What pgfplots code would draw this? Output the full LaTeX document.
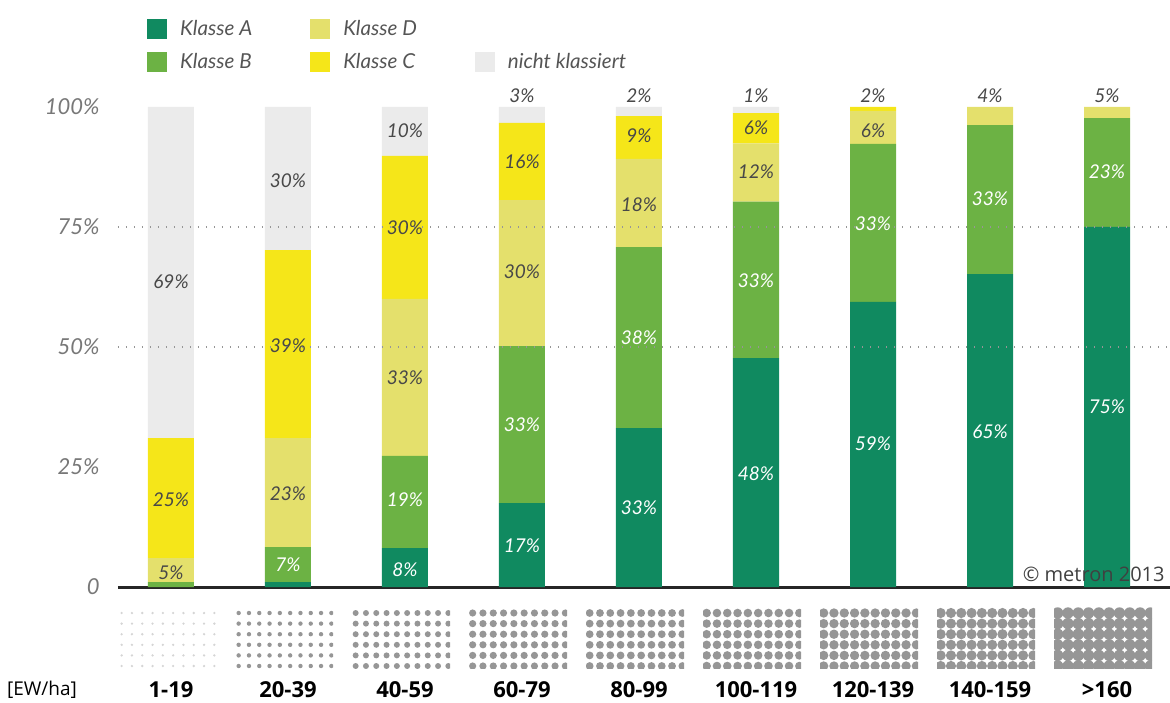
\documentclass[border=0pt]{standalone}
\usepackage{pgfplots}
\usepackage{pgfplotstable}
\pgfplotsset{compat=1.18}
\usepackage{fontspec}
\setmainfont{Open Sans}
\newfontfamily\lato{Lato}
\definecolor{colA}{RGB}{16,138,96}
\definecolor{colB}{RGB}{108,178,68}
\definecolor{colD}{RGB}{228,224,108}
\definecolor{colC}{RGB}{245,230,25}
\definecolor{colN}{RGB}{235,235,235}
\definecolor{labdark}{RGB}{72,72,72}
\definecolor{ylab}{RGB}{120,120,120}
\definecolor{dotgray}{RGB}{150,150,150}
\definecolor{legtext}{RGB}{85,85,85}
\pgfplotsset{sqleg/.style={legend image code/.code={\fill[##1,draw=none] (0pt,-5pt) rectangle (10pt,5pt);}}}

\pgfplotstableread{
x A B D C N
0 0 1 5 25 69
1 1 7.3 22.7 39.2 29.8
2 8.1 19.2 32.7 29.8 10.2
3 17.5 32.7 30.4 16.1 3.3
4 33.1 37.7 18.4 8.9 1.9
5 47.7 32.6 12.1 6.3 1.3
6 59.4 32.9 6.9 0.8 0
7 65.2 31.0 3.8 0 0
8 75 22.7 2.3 0 0
}\bars

\pgfplotstableread{
x y l
1 4.6 7
2 3.5 8
2 18.1 19
3 8.5 17
3 33.75 33
4 16.5 33
4 51.9 38
5 23.5 48
5 63.75 33
6 29.8 59
6 75.6 33
7 32.3 65
7 80.8 33
8 37.5 75
8 86.5 23
}\whitelabels

\pgfplotstableread{
x y l
0 2.9 5
0 18.1 25
0 63.5 69
1 19.4 23
1 50.2 39
1 84.6 30
2 43.5 33
2 74.8 30
2 95 10
3 65.6 30
3 88.5 16
3 102.3 3
4 79.6 18
4 94 9
4 102.3 2
5 86.5 12
5 95.6 6
5 102.3 1
6 95 6
6 102.3 2
7 102.3 4
8 102.3 5
}\darklabels

\begin{document}
\begin{tikzpicture}
\useasboundingbox (0,0) rectangle (585pt,351pt);
\begin{axis}[
  at={(0,0)}, anchor=south west,
  width=585pt, height=351pt, scale only axis,
  xmin=-1.4615, xmax=8.5385, ymin=-23.958, ymax=122.29,
  ybar stacked, bar width=23pt, clip=false,
  axis line style={draw=none}, major tick length=0pt,
  xtick={-1.1026,0,1,2,3,4,5,6,7,8},
  xticklabels={{\fontsize{9.5}{11}\selectfont[EW/ha]},\textbf{1-19},\textbf{20-39},\textbf{40-59},\textbf{60-79},\textbf{80-99},\textbf{100-119},\textbf{120-139},\textbf{140-159},\textbf{>160}},
  xticklabel style={anchor=center, yshift=6pt, font=\fontsize{11}{13}\selectfont, text=black},
  ytick={0,25,50,75,100},
  yticklabels={0,25\%,50\%,75\%,100\%},
  yticklabel style={anchor=east, inner sep=0pt, xshift=50pt, font=\lato\itshape\fontsize{11}{13}\selectfont, text=ylab},
  legend columns=2, transpose legend,
  legend cell align=left,
  legend style={draw=none, fill=none, at={(axis cs:-0.258,119.9)}, anchor=north west,
    font=\lato\itshape\fontsize{10.3}{12}\selectfont, text=legtext,
    row sep=3.6pt,
    /tikz/every odd column/.append style={column sep=4.5pt},
    /tikz/every even column/.append style={column sep=27pt}},
]
\draw[dotgray, line width=0.6pt, dash pattern=on 0.6pt off 3.4pt] (axis cs:-0.453,75) -- (axis cs:8.5385,75);
\draw[dotgray, line width=0.6pt, dash pattern=on 0.6pt off 3.4pt] (axis cs:-0.453,50) -- (axis cs:8.5385,50);
\addplot[fill=colA, draw=none, sqleg] table[x=x, y=A] {\bars};
\addlegendentry{Klasse A}
\addplot[fill=colB, draw=none, sqleg] table[x=x, y=B] {\bars};
\addlegendentry{Klasse B}
\addplot[fill=colD, draw=none, sqleg] table[x=x, y=D] {\bars};
\addlegendentry{Klasse D}
\addplot[fill=colC, draw=none, sqleg] table[x=x, y=C] {\bars};
\addlegendentry{Klasse C}
\addlegendimage{empty legend}
\addlegendentry{}
\addplot[fill=colN, draw=none, sqleg] table[x=x, y=N] {\bars};
\addlegendentry{nicht klassiert}
\draw[black!85, line width=1.5pt] (axis cs:-0.453,0) -- (axis cs:8.5385,0);
\end{axis}
\begin{axis}[
  at={(0,0)}, anchor=south west,
  width=585pt, height=351pt, scale only axis,
  xmin=-1.4615, xmax=8.5385, ymin=-23.958, ymax=122.29,
  hide axis, clip=false,
  nodes near coords={\pgfplotspointmeta\%},
  point meta=explicit symbolic,
]
\addplot[draw=none, mark=none, nodes near coords style={anchor=center, font=\lato\itshape\fontsize{9.5}{11}\selectfont, text=white}] table[x=x, y=y, meta=l] {\whitelabels};
\addplot[draw=none, mark=none, nodes near coords style={anchor=center, font=\lato\itshape\fontsize{9.5}{11}\selectfont, text=labdark}] table[x=x, y=y, meta=l] {\darklabels};
\node[anchor=east, inner sep=0pt, font=\fontsize{10}{12}\selectfont, text=black!75] at (axis cs:8.4957,2.708) {\textcopyright{} metron 2013};
\end{axis}
\foreach \r/\c [count=\i from 0] in {0.65/40,1.1/100,1.5/100,1.8/100,1.95/100,2.15/100,2.35/100,2.55/100,2.85/100} {
  \pgfmathsetmacro\cx{(171+117*\i-3)*0.5}
  \begin{scope}
    \clip ({\cx*1pt-25pt},17pt) rectangle ({\cx*1pt+24pt},48pt);
    \foreach \j in {0,...,9} {
      \foreach \k in {0,...,5} {
        \fill[dotgray!\c] ({(\cx-23.175+5.15*\j)*1pt}, {(89-10.6*\k)*0.5pt}) circle[radius=\r pt];
      }
    }
  \end{scope}
}
\end{tikzpicture}
\end{document}
